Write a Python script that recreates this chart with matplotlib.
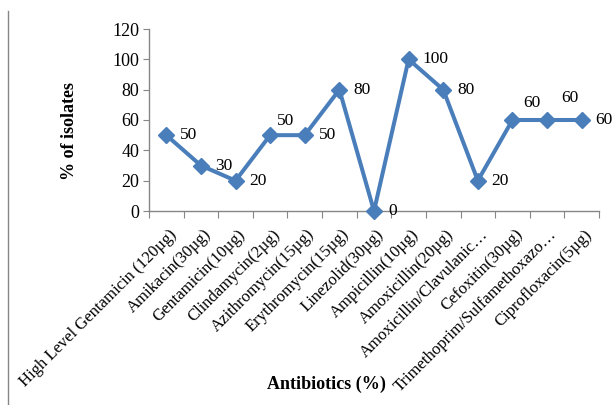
import matplotlib
matplotlib.use("Agg")
import matplotlib.pyplot as plt
from matplotlib.lines import Line2D
from matplotlib.transforms import ScaledTranslation

plt.rcParams['font.family'] = ['Liberation Serif', 'DejaVu Serif']

antibiotics = [
    "High Level Gentamicin (120µg)",
    "Amikacin(30µg)",
    "Gentamicin(10µg)",
    "Clindamycin(2µg)",
    "Azithromycin(15µg)",
    "Erythromycin(15µg)",
    "Linezolid(30µg)",
    "Ampicillin(10µg)",
    "Amoxicillin(20µg)",
    "Amoxicillin/Clavulanic…",
    "Cefoxitin(30µg)",
    "Trimethoprim/Sulfamethoxazo…",
    "Ciprofloxacin(5µg)",
]
pct_isolates = [50, 30, 20, 50, 50, 80, 0, 100, 80, 20, 60, 60, 60]
y_ticks = [0, 20, 40, 60, 80, 100, 120]

# label offsets in points (dx, dy)
label_offsets = [(10, 0)] * len(pct_isolates)
label_offsets[3] = (5, 10)
label_offsets[10] = (8, 12)
label_offsets[11] = (10, 16)

W, H = 616, 405
fig = plt.figure(figsize=(W / 100, H / 100), dpi=100)
ax = fig.add_axes([149 / W, 1 - 211 / H, 450 / W, 182 / H])

line_color = "#4A7EBB"
axis_color = "#868686"
x = list(range(len(antibiotics)))
ax.plot(x, pct_isolates, color=line_color, lw=2.9, marker="D", ms=8.5,
        markerfacecolor=line_color, markeredgecolor=line_color, clip_on=False, zorder=3)

for xi, v, (dx, dy) in zip(x, pct_isolates, label_offsets):
    ax.annotate(str(v), (xi, v), xytext=(dx, dy), textcoords="offset points",
                ha="left", va="center", fontsize=12.5, color="black", zorder=4)

ax.set_xlim(-0.5, len(antibiotics) - 0.5)
ax.set_ylim(0, 120)
ax.set_yticks(y_ticks)
ax.tick_params(axis="y", direction="out", length=4, color=axis_color, labelsize=13, pad=3)

# category ticks sit on boundaries between categories
ax.set_xticks([i - 0.5 for i in range(len(antibiotics) + 1)], minor=False)
ax.set_xticklabels([])
ax.set_xticks(x, minor=True)
ax.set_xticklabels(antibiotics, minor=True, rotation=45, ha="right",
                   rotation_mode="anchor", fontsize=12)
ax.tick_params(axis="x", which="major", direction="out", length=5, color=axis_color)
ax.tick_params(axis="x", which="minor", length=0, pad=11)
shift = ScaledTranslation(2 / 100, 0, fig.dpi_scale_trans)
for lbl in ax.get_xticklabels(minor=True):
    lbl.set_transform(lbl.get_transform() + shift)

for side in ("top", "right"):
    ax.spines[side].set_visible(False)
for side in ("left", "bottom"):
    ax.spines[side].set_color(axis_color)
    ax.spines[side].set_linewidth(1.0)

fig.text(69 / W, 1 - 131 / H, "% of isolates", rotation=90, ha="center", va="center",
         fontsize=13, fontweight="bold")
fig.text(326 / W, 1 - 384 / H, "Antibiotics (%)", ha="center", va="center",
         fontsize=13, fontweight="bold")

fig.add_artist(Line2D([7.5 / W, 7.5 / W], [0, 1 - 11 / H], transform=fig.transFigure,
                      color=axis_color, lw=1.0))

fig.savefig("out.png", dpi=100)
